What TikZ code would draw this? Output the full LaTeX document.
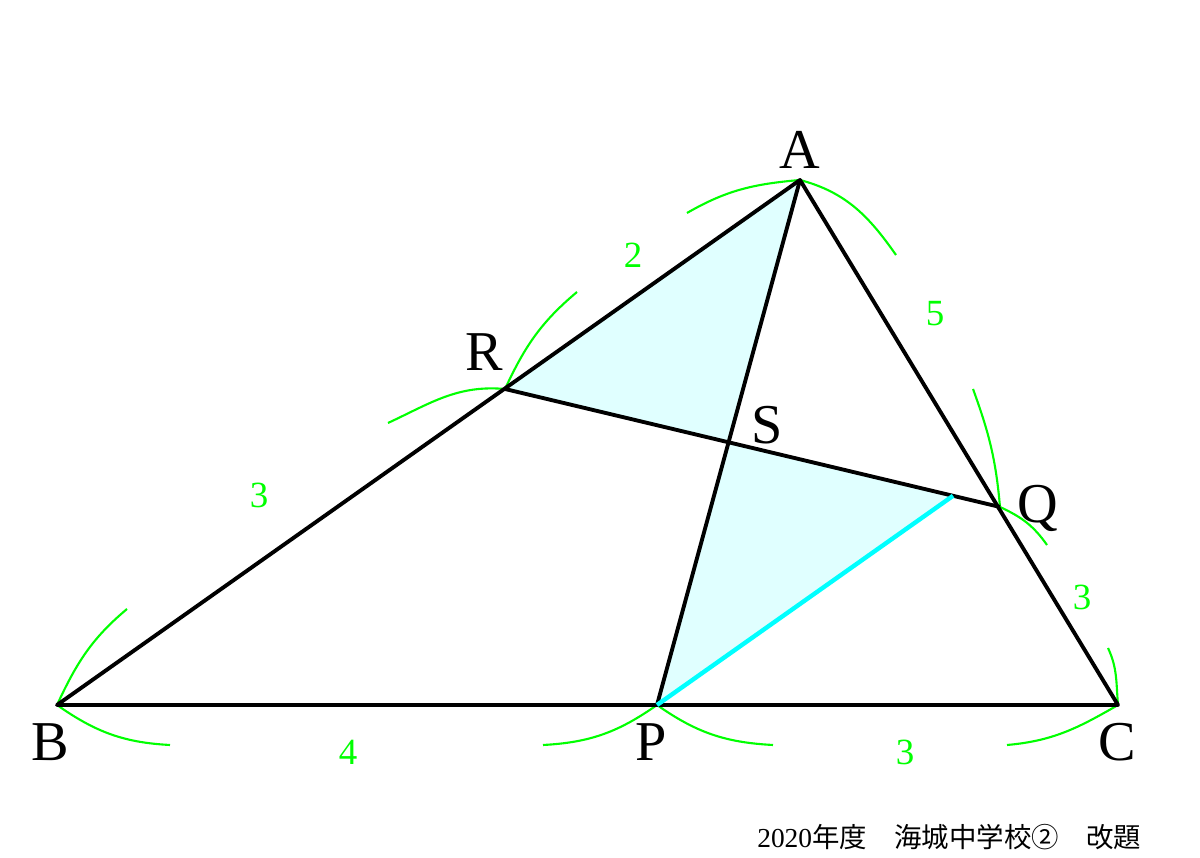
\documentclass[tikz,border=0pt]{standalone}
\usepackage{fontspec}
\setmainfont{Liberation Serif}
\newfontfamily\cjk{Noto Sans CJK JP}
\usetikzlibrary{calc}
\definecolor{marker}{RGB}{0,255,0}
\definecolor{fillcyan}{RGB}{224,255,255}
\definecolor{linecyan}{RGB}{0,255,255}
\tikzset{
  tickarc/.style={draw=marker,line width=0.6pt},
  edge/.style={draw=black,line width=1.1pt,line join=round},
  ptlabel/.style={font=\fontsize{16}{16}\selectfont},
  lenlabel/.style={text=marker,font=\fontsize{10.5}{10.5}\selectfont}
}
\begin{document}
\begin{tikzpicture}[x=0.01cm,y=0.01cm]
				\useasboundingbox (0,0) rectangle (1200,858);
				\coordinate (A) at (800,678);
				\coordinate (B) at (57,153);
				\coordinate (C) at (1118,153);
				\coordinate (P) at (657,153);
				\coordinate (Q) at (1000,351);
				\coordinate (R) at (505,469);
				\coordinate (S) at (intersection of A--P and R--Q);
				\coordinate (P1) at ($(P)+(A)-(B)$);
				\coordinate (T) at (intersection of P--P1 and R--Q);
				% shaded triangles
				\fill[fillcyan] (A) -- (R) -- (S) -- cycle;
				\fill[fillcyan] (S) -- (T) -- (P) -- cycle;
				% marker arcs
				\draw[tickarc] (A) to[out=185,in=30] (687,645);
				\draw[tickarc] (A) to[out=-15,in=125] (896,603);
				\draw[tickarc] (R) to[out=65,in=220] (577,566);
				\draw[tickarc] (R) to[out=175,in=25] (388,435);
				\draw[tickarc] (B) to[out=65,in=220] (127,249);
				\draw[tickarc] (B) to[out=-35,in=177] (170,113);
				\draw[tickarc] (P) to[out=215,in=3] (543,113);
				\draw[tickarc] (P) to[out=-35,in=177] (773,113);
				\draw[tickarc] (C) to[out=210,in=5] (1007,113);
				\draw[tickarc] (C) to[out=95,in=-65] (1108,210);
				\draw[tickarc] (Q) to[out=95,in=-70] (973,469);
				\draw[tickarc] (Q) to[out=-25,in=125] (1047,313);
				% triangle and cevians
				\draw[edge] (A) -- (B) -- (C) -- cycle;
				\draw[edge] (A) -- (P);
				\draw[edge] (R) -- (Q);
				\draw[linecyan,line width=1.25pt] (P) -- (T);
				% labels
				\node[ptlabel] (lA) at (800,708) {A};
				\node[ptlabel] (lB) at (50,116) {B};
				\node[ptlabel] (lC) at (1117,116) {C};
				\node[ptlabel] (lP) at (651,116) {P};
				\node[ptlabel] (lQ) at (1038,350) {Q};
				\node[ptlabel] (lR) at (484,506) {R};
				\node[ptlabel] (lS) at (767,433) {S};
				\node[lenlabel] (nAR) at (633,603) {2};
				\node[lenlabel] (nAQ) at (935,544) {5};
				\node[lenlabel] (nRB) at (259,363) {3};
				\node[lenlabel] (nQC) at (1082,261) {3};
				\node[lenlabel] (nBP) at (348,106) {4};
				\node[lenlabel] (nPC) at (905,106) {3};
				\node[anchor=east,inner sep=0pt,font=\fontsize{7.8}{8}\selectfont] (src) at (1142,21) {2020{\cjk 年度　海城中学校②　改題}};
\end{tikzpicture}
\end{document}
